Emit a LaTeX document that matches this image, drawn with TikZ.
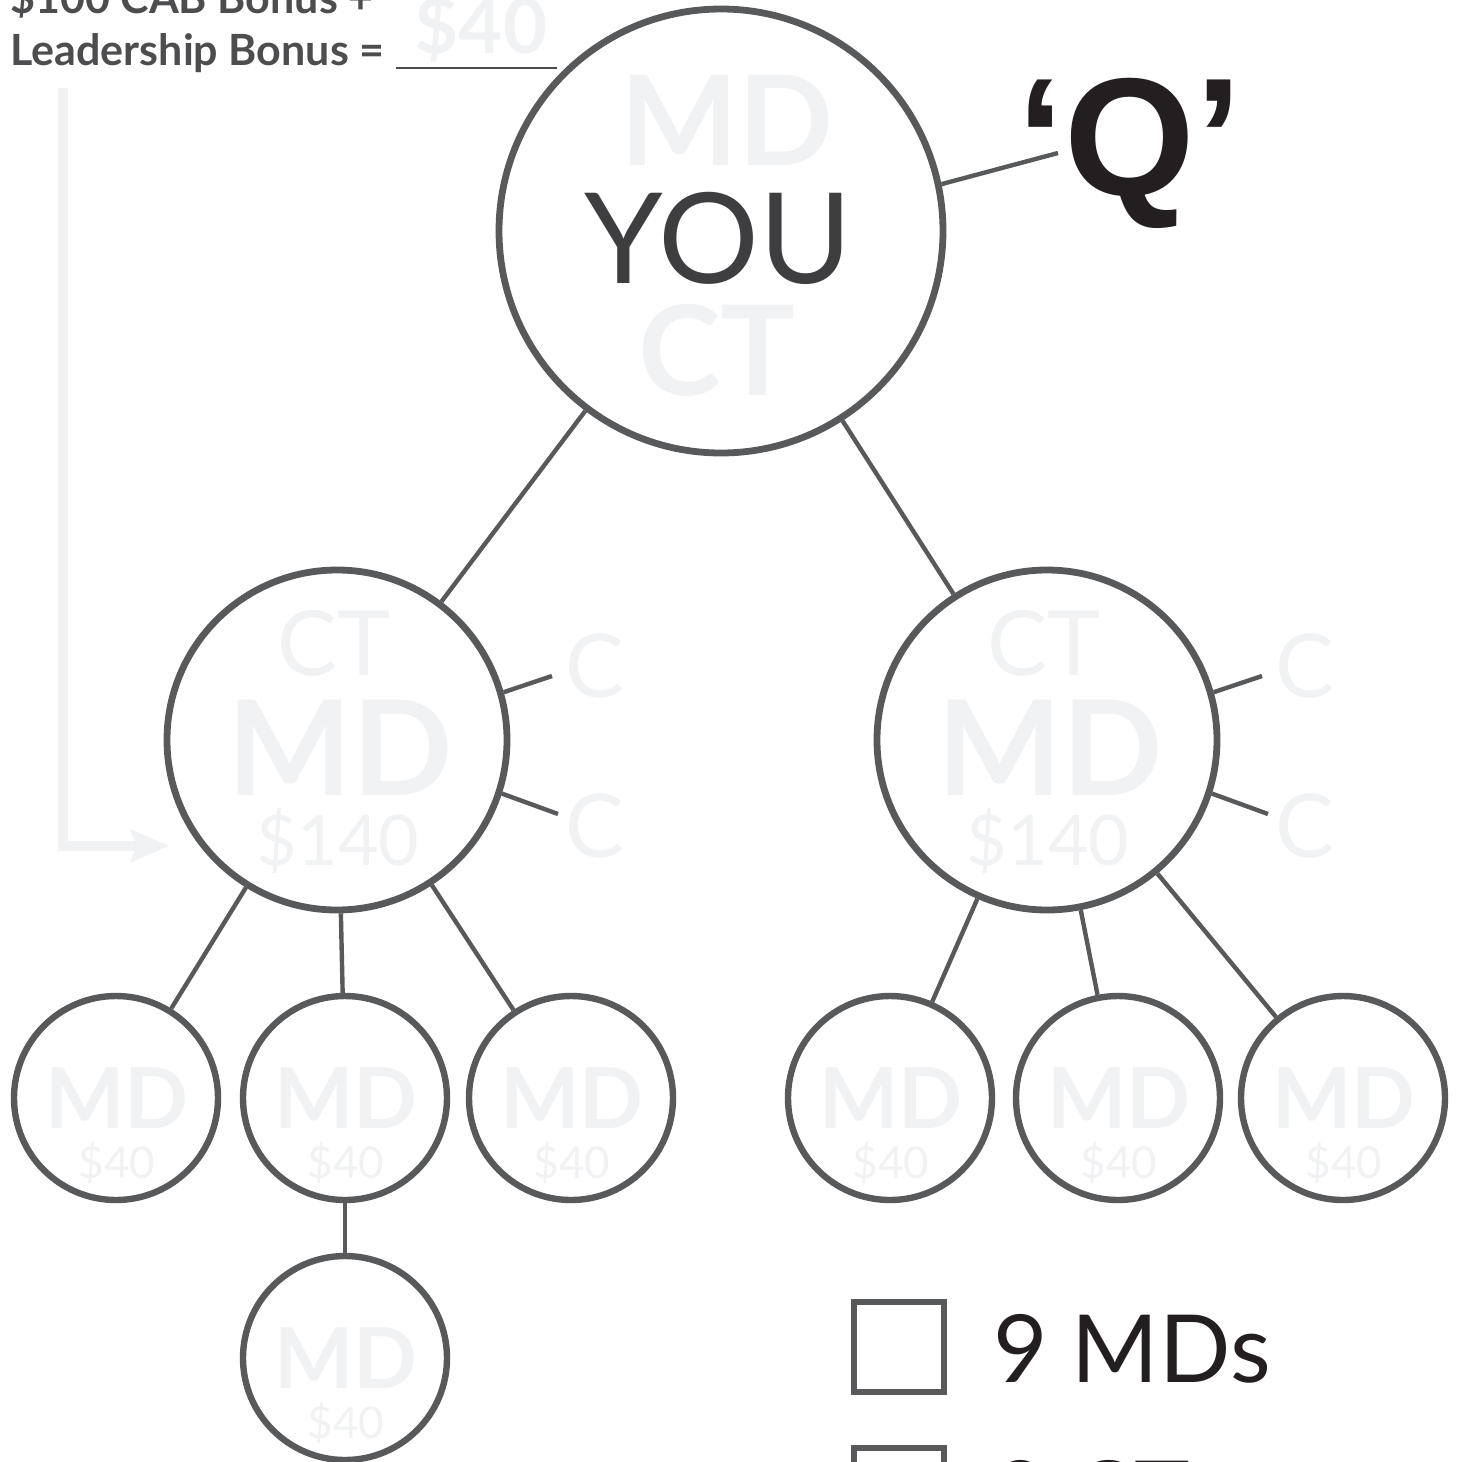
\documentclass[tikz,border=0pt]{standalone}
\usepackage{fontspec}
\setmainfont{Lato}
\newfontfamily\qfont{Liberation Sans}
\usetikzlibrary{arrows.meta}
\definecolor{ring}{RGB}{88,89,91}
\definecolor{ghostgray}{RGB}{241,242,244}
\definecolor{youcol}{RGB}{62,62,64}
\definecolor{inkcol}{RGB}{35,31,32}
\definecolor{headcol}{RGB}{77,77,79}
\newcommand\fsz[1]{\fontsize{#1}{#1}\selectfont}
\begin{document}
\begin{tikzpicture}[x=0.5pt,y=-0.5pt,
  bigring/.style={circle, draw=ring, line width=3.4pt, minimum size=222pt, inner sep=0pt},
  midring/.style={circle, draw=ring, line width=3.4pt, minimum size=170pt, inner sep=0pt},
  smallring/.style={circle, draw=ring, line width=3.2pt, minimum size=102pt, inner sep=0pt},
  link/.style={draw=ring, line width=2.2pt},
  ghost/.style={text=ghostgray, anchor=base, inner sep=0pt},
  txt/.style={anchor=base, inner sep=0pt},
  boxsq/.style={draw=ring, line width=3pt, minimum size=45pt, inner sep=0pt}
]
\useasboundingbox (0,0) rectangle (1460,1462);
\clip (0,0) rectangle (1460,1462);

% header
\node[txt, anchor=base west, text=headcol] (h1) at (10,13) {\fsz{21.5}\bfseries \$100 CAB Bonus +};
\node[txt, anchor=base west, text=headcol] (h2) at (10,65) {\fsz{21.5}\bfseries Leadership Bonus =};
\coordinate (ul1) at (396,68);
\coordinate (ul2) at (557,68);
\draw[draw=headcol, line width=1pt] (ul1) -- (ul2);
\node[ghost] (h40) at (481,53) {\fsz{38}\bfseries \$40};

% rings
\node[bigring] (you) at (721,231) {};
\node[midring] (lm) at (337,740) {};
\node[midring] (rm) at (1047,740) {};
\node[smallring] (s1) at (116,1098) {};
\node[smallring] (s2) at (345,1098) {};
\node[smallring] (s3) at (571,1098) {};
\node[smallring] (s4) at (890,1098) {};
\node[smallring] (s5) at (1118,1098) {};
\node[smallring] (s6) at (1343,1098) {};
\node[smallring] (s7) at (345,1358) {};

% connectors
\draw[link] (you) -- (lm);
\draw[link] (you) -- (rm);
\draw[link] (lm) -- (s1);
\draw[link] (lm) -- (s2);
\draw[link] (lm) -- (s3);
\draw[link] (rm) -- (s4);
\draw[link] (rm) -- (s5);
\draw[link] (rm) -- (s6);
\draw[link] (s2) -- (s7);

% top ring text
\node[ghost] (ymd) at (727,165) {\fsz{62.5}\bfseries MD};
\node[txt, text=youcol] (yyou) at (718,283) {\fsz{63}YOU};
\node[ghost] (yct) at (717,395) {\fsz{62.5}\bfseries CT};

% Q
\node[txt, text=inkcol] (q) at (1130,195) {\fsz{84}\qfont\bfseries ‘Q’};
\coordinate (qend) at (1058,153);
\draw[link] (you.12.6) -- (qend);

% mid rings text
\foreach \nm/\cx in {l/0,r/710}{
  \node[ghost] (\nm ct) at (334+\cx,675) {\fsz{45}CT};
  \node[ghost] (\nm md) at (340+\cx,795) {\fsz{66}\bfseries MD};
  \node[ghost] (\nm amt) at (338+\cx,865) {\fsz{35}\$140};
  \node[ghost] (\nm c1) at (595+\cx,697) {\fsz{44}C};
  \node[ghost] (\nm c2) at (595+\cx,857) {\fsz{44}C};
  \coordinate (\nm e1) at (552+\cx,676);
  \coordinate (\nm e2) at (558+\cx,814);
}
\draw[link] (lm.16.4) -- (le1);
\draw[link] (lm.-18.4) -- (le2);
\draw[link] (rm.16.4) -- (re1);
\draw[link] (rm.-18.4) -- (re2);

% small rings text
\foreach \s/\cx/\cy in {s1/116/1098,s2/345/1098,s3/571/1098,s4/890/1098,s5/1118/1098,s6/1343/1098,s7/345/1358}{
  \node[ghost] (\s md) at (\cx+1,\cy+30) {\fsz{42}\bfseries MD};
  \node[ghost] (\s amt) at (\cx+1,\cy+80) {\fsz{22}\$40};
}

% L arrow
\coordinate (a1) at (63,88);
\coordinate (a2) at (63,846);
\coordinate (a3) at (169,846);
\draw[draw=ghostgray, line width=5pt, -{Stealth[length=19pt,width=16pt,inset=3pt]}] (a1) -- (a2) -- (a3);

% legend
\node[boxsq] (b1) at (899,1347) {};
\node[boxsq] (b2) at (899,1493) {};
\node[txt, anchor=base west, text=inkcol] (l1) at (993,1382) {\fsz{47}9 MDs};
\node[txt, anchor=base west, text=inkcol] (l2) at (993,1528) {\fsz{47}9 CT};
\end{tikzpicture}
\end{document}
